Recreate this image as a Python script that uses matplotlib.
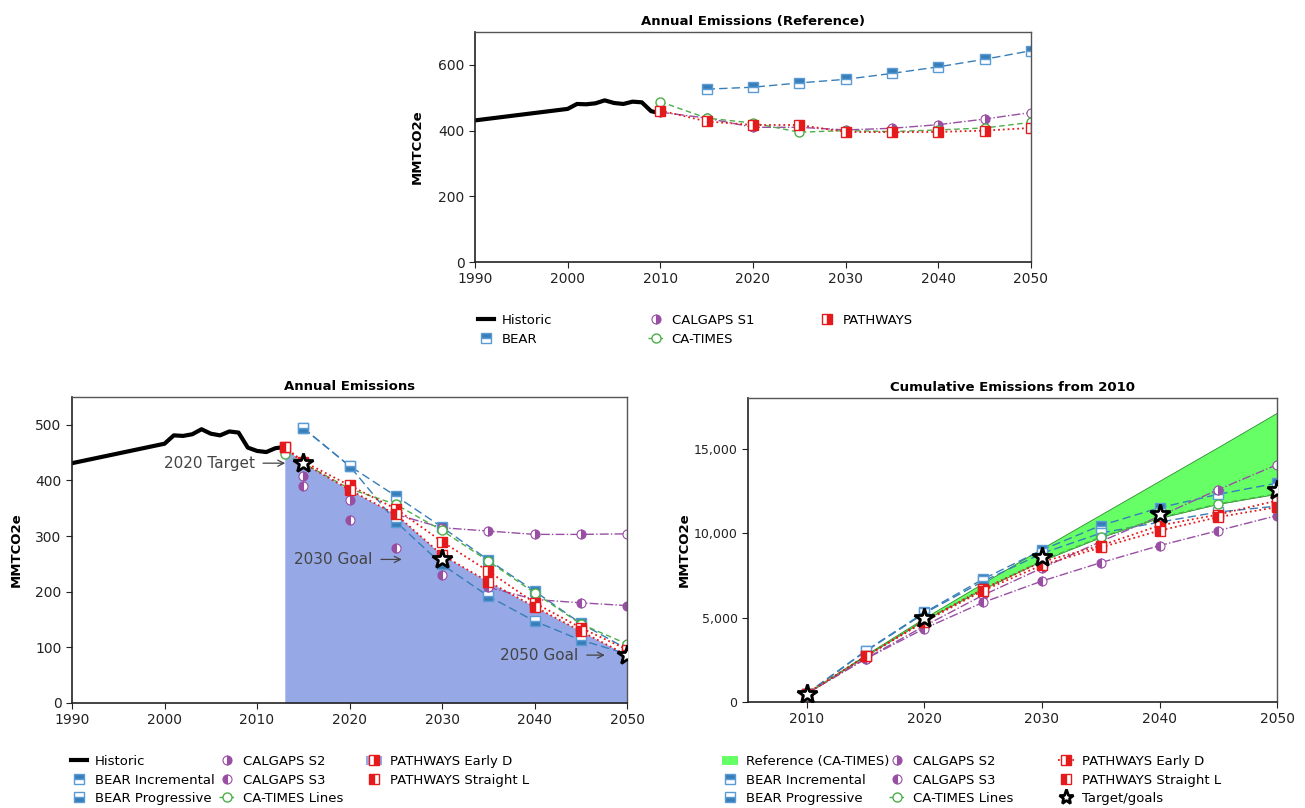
import matplotlib
matplotlib.use("Agg")
import matplotlib.pyplot as plt
from matplotlib.lines import Line2D
from matplotlib.patches import Patch
from matplotlib.ticker import StrMethodFormatter

plt.rcParams["font.family"] = ["DejaVu Sans"]

# ---- data -------------------------------------------------------------
hist_years = [1990, 2000, 2001, 2002, 2003, 2004, 2005, 2006, 2007, 2008, 2009, 2010, 2011, 2012, 2013]
hist_vals = [431, 466, 481, 480, 483, 492, 484, 481, 488, 486, 459, 453, 451, 458, 460]

# top: reference scenarios
ref_years = [2010, 2015, 2020, 2025, 2030, 2035, 2040, 2045, 2050]
bear_ref = [526, 532, 545, 556, 574, 594, 617, 643]  # from 2015
calgaps_s1 = [456, 438, 410, 410, 402, 407, 418, 435, 455]
ca_times_ref = [488, 438, 423, 395, 400, 397, 402, 408, 425]
pathways_ref = [461, 428, 417, 417, 396, 395, 396, 400, 408]

# bottom left: annual emissions of reduction scenarios
bl_years = [2013, 2015, 2020, 2025, 2030, 2035, 2040, 2045, 2050]
bear_inc = [494, 426, 372, 316, 257, 201, 143, 97]  # from 2015
bear_prog = [494, 426, 326, 249, 192, 147, 113, 88]  # from 2015
calgaps_s2 = [453, 408, 364, 339, 315, 309, 303, 303, 304]
calgaps_s3 = [453, 390, 328, 278, 230, 208, 186, 180, 175]
ca_times_lines = [447, 431, 385, 357, 310, 255, 198, 142, 106]
pathways_early = [460, 434, 391, 349, 290, 237, 180, 135, 96]
pathways_straight = [460, 431, 383, 339, 266, 218, 173, 129, 86]
goal_years = [2015, 2030, 2050]
goal_vals = [431, 258, 86]
goal_labels = ["2020 Target", "2030 Goal", "2050 Goal"]

# bottom right: cumulative emissions from 2010
cum_years = [2010, 2015, 2020, 2025, 2030, 2035, 2040, 2045, 2050]
ref_cum = [500, 2800, 4980, 7050, 9100, 11100, 13100, 15100, 17130]
ca_times_cum = [500, 2730, 4850, 6690, 8370, 9760, 10900, 11730, 12330]
bear_inc_cum = [500, 3030, 5300, 7280, 9000, 10450, 11500, 12300, 12960]
bear_prog_cum = [500, 3000, 5250, 7150, 8800, 10000, 10650, 11250, 11600]
s2_cum = [500, 2570, 4500, 6330, 7930, 9500, 11000, 12580, 14050]
s3_cum = [500, 2550, 4350, 5900, 7160, 8250, 9260, 10150, 11040]
pw_early_cum = [500, 2700, 4800, 6700, 8300, 9260, 10450, 11100, 11930]
pw_straight_cum = [500, 2700, 4750, 6600, 8100, 9150, 10150, 10950, 11540]
target_years = [2010, 2020, 2030, 2040, 2050]
target_cum = [500, 4950, 8570, 11140, 12580]

# ---- styles -----------------------------------------------------------
BLUE, PURPLE, GREEN, RED = "#377eb8", "#984ea3", "#4daf4a", "#e41a1c"
FILL_BLUE = "#97a8e6"
ms = 6.5
st_bear = dict(color=BLUE, ls=(0, (6, 3)), lw=1, marker="s", ms=ms, fillstyle="top",
               markerfacecoloralt="white", mec="#5b9bd5", mew=1)
st_bear2 = dict(st_bear, fillstyle="bottom")
st_cal = dict(color=PURPLE, ls="-.", lw=1, marker="o", ms=ms, fillstyle="right",
              markerfacecoloralt="white", mec=PURPLE, mew=0.8)
st_cal3 = dict(st_cal, fillstyle="left")
st_ct = dict(color=GREEN, ls=(0, (4, 2.5)), lw=1, marker="o", ms=ms, mfc="white", mec=GREEN, mew=1)
st_pw = dict(color=RED, ls=":", lw=1.3, marker="s", ms=ms, fillstyle="right",
             markerfacecoloralt="white", mec=RED, mew=1)
st_pw2 = dict(st_pw, fillstyle="left")
st_hist = dict(color="black", lw=3)
st_star = dict(ls="none", marker="*", ms=15, mfc="white", mec="black", mew=2, zorder=6)

W, H = 1305, 808


def mark_only(style):
    """legend handle showing just the marker"""
    return Line2D([], [], **dict(style, ls="none"))


def style_axes(ax, label_x):
    for side in ["left", "bottom"]:
        ax.spines[side].set_color("#222")
        ax.spines[side].set_linewidth(1.2)
    for side in ["top", "right"]:
        ax.spines[side].set_color("#555")
        ax.spines[side].set_linewidth(1)
    ax.tick_params(direction="out", length=4, labelsize=10, colors="#222")
    ax.set_ylabel("MMTCO2e", fontsize=9.5, fontweight="bold")
    ax.yaxis.set_label_coords(label_x, 0.5)


def column_legend(handles, labels, x_px, y_px):
    """one legend column, placed by the pixel position of its text"""
    fig.legend(handles, labels, loc="upper left",
               bbox_to_anchor=((x_px - 24) / W, 1 - y_px / H),
               frameon=False, borderpad=0, borderaxespad=0, fontsize=9.5,
               handlelength=1.2, handletextpad=0.6, labelspacing=0.42)


fig = plt.figure(figsize=(W / 100, H / 100), dpi=100)

# ---- top: reference ---------------------------------------------------
ax1 = fig.add_axes([0.364, 0.6757, 0.426, 0.2847])
ax1.plot(hist_years[:12], hist_vals[:12], **st_hist)
ax1.plot(ref_years[1:], bear_ref, **st_bear)
ax1.plot(ref_years, calgaps_s1, **st_cal)
ax1.plot(ref_years, ca_times_ref, **st_ct)
ax1.plot(ref_years, pathways_ref, **st_pw)
ax1.set_xlim(1990, 2050)
ax1.set_ylim(0, 700)
ax1.set_yticks([0, 200, 400, 600])
ax1.set_title("Annual Emissions (Reference)", fontsize=9.5, fontweight="bold", pad=5)
style_axes(ax1, -0.092)
column_legend([Line2D([], [], **st_hist), mark_only(st_bear)], ["Historic", "BEAR"], 502, 314)
column_legend([mark_only(st_cal), Line2D([], [], **st_ct)], ["CALGAPS S1", "CA-TIMES"], 672, 314)
column_legend([mark_only(st_pw)], ["PATHWAYS"], 843, 314)

# ---- bottom left: annual emissions ------------------------------------
ax2 = fig.add_axes([0.0552, 0.13, 0.4253, 0.3787])
ax2.fill_between(bl_years, 0, pathways_straight, color=FILL_BLUE, lw=0, zorder=1)
ax2.plot(hist_years, hist_vals, **st_hist)
ax2.plot(bl_years[1:], bear_inc, **st_bear)
ax2.plot(bl_years[1:], bear_prog, **st_bear2)
ax2.plot(bl_years[3:], calgaps_s2[3:], color=PURPLE, ls="-.", lw=1)
ax2.plot(bl_years, calgaps_s2, **dict(st_cal, ls="none"))
ax2.plot(bl_years[5:], calgaps_s3[5:], color=PURPLE, ls="-.", lw=1)
ax2.plot(bl_years, calgaps_s3, **dict(st_cal3, ls="none"))
ax2.plot(bl_years, ca_times_lines, **st_ct)
ax2.plot(bl_years, pathways_early, **st_pw)
ax2.plot(bl_years, pathways_straight, **st_pw2)
ax2.plot(goal_years, goal_vals, **st_star)
text_dx = [-35, -50, -35]
arrow_gap = [13, 29, 16]
for x, y, txt, dx, gap in zip(goal_years, goal_vals, goal_labels, text_dx, arrow_gap):
    ax2.annotate(txt, xy=(x, y), xytext=(dx, 0), textcoords="offset points",
                 fontsize=11, color="#444", va="center", ha="right",
                 arrowprops=dict(arrowstyle="->", color="#444", lw=0.9,
                                 shrinkA=4, shrinkB=gap))
ax2.set_xlim(1990, 2050)
ax2.set_ylim(0, 550)
ax2.set_title("Annual Emissions", fontsize=9.5, fontweight="bold", pad=5)
style_axes(ax2, -0.088)
column_legend([Line2D([], [], **st_hist), mark_only(st_bear), mark_only(st_bear2)],
              ["Historic", "BEAR Incremental", "BEAR Progressive"], 95, 755)
column_legend([mark_only(st_cal), mark_only(st_cal3), Line2D([], [], **st_ct)],
              ["CALGAPS S2", "CALGAPS S3", "CA-TIMES Lines"], 243, 755)
column_legend([(Patch(facecolor=FILL_BLUE, lw=0), mark_only(st_pw)), mark_only(st_pw2)],
              ["PATHWAYS Early D", "PATHWAYS Straight L"], 390, 755)

# ---- bottom right: cumulative emissions -------------------------------
ax3 = fig.add_axes([0.5732, 0.1312, 0.4054, 0.3762])
ax3.fill_between(cum_years, ca_times_cum, ref_cum, facecolor="#66ff66",
                 edgecolor="#2e8b2e", lw=0.6, zorder=1)
ax3.plot(cum_years, bear_inc_cum, **st_bear)
ax3.plot(cum_years, bear_prog_cum, **st_bear2)
ax3.plot(cum_years, s2_cum, **st_cal)
ax3.plot(cum_years, s3_cum, **st_cal3)
ax3.plot(cum_years, ca_times_cum, **st_ct)
ax3.plot(cum_years, pw_early_cum, **st_pw)
ax3.plot(cum_years, pw_straight_cum, **st_pw2)
ax3.plot(target_years, target_cum, **st_star)
ax3.set_xlim(2005, 2050)
ax3.set_xticks([2010, 2020, 2030, 2040, 2050])
ax3.set_ylim(0, 18000)
ax3.set_yticks([0, 5000, 10000, 15000])
ax3.yaxis.set_major_formatter(StrMethodFormatter("{x:,.0f}"))
ax3.set_title("Cumulative Emissions from 2010", fontsize=9.5, fontweight="bold", pad=5)
style_axes(ax3, -0.108)
ax3.tick_params(axis="y", labelsize=9)
column_legend([Patch(facecolor="#66ff66", lw=0), mark_only(st_bear), mark_only(st_bear2)],
              ["Reference (CA-TIMES)", "BEAR Incremental", "BEAR Progressive"], 746, 755)
column_legend([mark_only(st_cal), mark_only(st_cal3), Line2D([], [], **st_ct)],
              ["CALGAPS S2", "CALGAPS S3", "CA-TIMES Lines"], 913, 755)
column_legend([Line2D([], [], **st_pw), mark_only(st_pw2), mark_only(dict(st_star, ms=11))],
              ["PATHWAYS Early D", "PATHWAYS Straight L", "Target/goals"], 1082, 755)

fig.savefig("out.png", dpi=100)
